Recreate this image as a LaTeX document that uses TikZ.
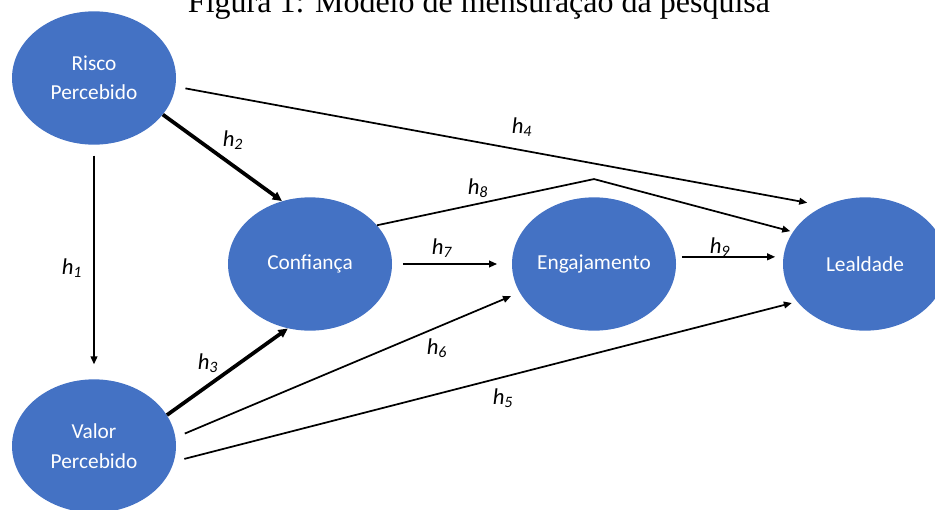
\documentclass[tikz,border=0pt]{standalone}
\usepackage{fontspec}
\setmainfont{Carlito}
\newfontfamily\titlefont{Liberation Serif}
\usetikzlibrary{positioning}
\usetikzlibrary{arrows.meta}
\usetikzlibrary{shapes.geometric}

\definecolor{officeblue}{HTML}{4472C4}

\begin{document}
\begin{tikzpicture}[
                          x=0.75pt, y=-0.75pt, on grid,
                          construct/.style={ellipse, fill=officeblue, text=white, inner sep=0pt, minimum width=123pt, minimum height=100pt, align=center, font=\fontsize{16}{22}\selectfont},
                          thinarrow/.style={line width=1.3pt, -{Triangle[length=6pt,width=5pt]}},
                          thickarrow/.style={line width=2.8pt, -{Triangle[length=7pt,width=6.5pt]}},
                          hlabel/.style={inner sep=0pt, font=\fontsize{17}{20}\selectfont\itshape},
                      ]
                      \path[use as bounding box] (0,0) rectangle (935,510);
                      \clip (0,0) rectangle (935,510);

                      %Title
                      \node[anchor=base]   (title)   at (479,13)   {\titlefont\fontsize{24}{28}\selectfont Figura 1: Modelo de mensuração da pesquisa};

                      %Nodes
                      \node[construct]     (risco)   at (94,78)                          {Risco\\Percebido};
                      \node[construct]     (valor)   [below=276pt of risco]              {Valor\\Percebido};
                      \node[construct]     (conf)    [below right=139.5pt and 162pt of risco] {Confiança};
                      \node[construct]     (eng)     [right=213pt of conf]               {Engajamento};
                      \node[construct]     (leal)    [right=203.25pt of eng]             {Lealdade};
                      \coordinate[above=13.5pt of eng.north] (h8bend);

                      %Lines
                      \draw[thinarrow, shorten <=8pt, shorten >=11pt]   (risco.south) -- (valor.north);
                      \draw[thickarrow]                                  (risco.-28)  -- (conf.114);
                      \draw[thickarrow]                                  (valor.23)   -- (conf.-109);
                      \draw[thinarrow, shorten <=7.5pt, shorten >=13pt] (risco.-6)   -- (leal.125);
                      \draw[thinarrow, shorten <=8pt, shorten >=4pt]    (valor.-11)  -- (leal.209);
                      \draw[thinarrow, shorten <=7.5pt, shorten >=7pt]  (valor.6)    -- (eng.201);
                      \draw[thinarrow, shorten <=8pt, shorten >=11pt]   (conf.east)  -- (eng.west);
                      \draw[thinarrow, shorten >=2pt]                    (conf.30)    -- (h8bend) -- (leal.156);
                      \draw[thinarrow, shorten <=4.5pt, shorten >=6pt]  (eng.5)      -- (leal.175);

                      %Labels
                      \node[hlabel]  (lh1)  at (72,268)   {h\textsubscript{1}};
                      \node[hlabel]  (lh2)  at (233,140)  {h\textsubscript{2}};
                      \node[hlabel]  (lh3)  at (208,363)  {h\textsubscript{3}};
                      \node[hlabel]  (lh4)  at (522,127)  {h\textsubscript{4}};
                      \node[hlabel]  (lh5)  at (503,398)  {h\textsubscript{5}};
                      \node[hlabel]  (lh6)  at (437,348)  {h\textsubscript{6}};
                      \node[hlabel]  (lh7)  at (442,248)  {h\textsubscript{7}};
                      \node[hlabel]  (lh8)  at (478,188)  {h\textsubscript{8}};
                      \node[hlabel]  (lh9)  at (720,247)  {h\textsubscript{9}};
                  \end{tikzpicture}
\end{document}
